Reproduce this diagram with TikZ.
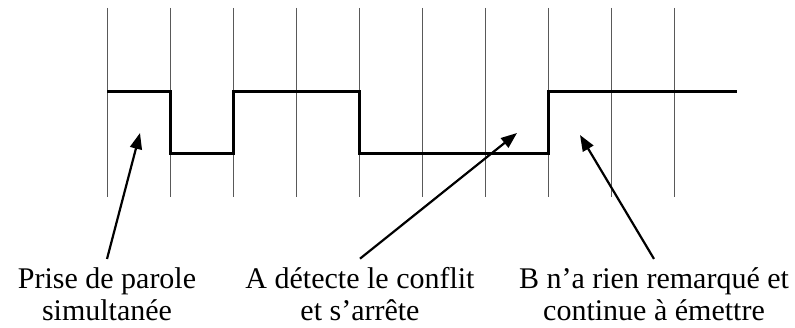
\documentclass[tikz,border=0pt]{standalone}
\usepackage{fontspec}
\setmainfont{Liberation Serif}
\usetikzlibrary{arrows.meta}
\begin{document}
\begin{tikzpicture}[x=1pt,y=-1pt,
  grid/.style={draw=black!65,line width=1pt},
  signal/.style={draw=black,line width=3pt,line join=miter},
  arr/.style={draw=black,line width=2.2pt,-{Triangle[length=16pt,width=12pt]}},
  lab/.style={align=center,anchor=base,inner sep=9pt,font=\fontsize{30}{32}\selectfont}]
\useasboundingbox (0,0) rectangle (795,328);
\foreach \i in {0,...,9}
  \draw[grid] (107+63*\i,8) -- (107+63*\i,197);
\draw[signal] (107,92) -- (170,92) -- (170,154) -- (233,154) -- (233,92)
  -- (359,92) -- (359,154) -- (548,154) -- (548,92) -- (737,92);
\node[lab] (lab1) at (107,321) {Prise de parole\\simultanée};
\node[lab] (lab2) at (360,321) {A détecte le conflit\\et s’arrête};
\node[lab] (lab3) at (654,321) {B n’a rien remarqué et\\continue à émettre};
\coordinate (tip1) at (140,133);
\coordinate (tip2) at (517,133);
\coordinate (tip3) at (580,135);
\draw[arr] (lab1.north) -- (tip1);
\draw[arr] (lab2.north) -- (tip2);
\draw[arr] (lab3.north) -- (tip3);
\end{tikzpicture}
\end{document}
